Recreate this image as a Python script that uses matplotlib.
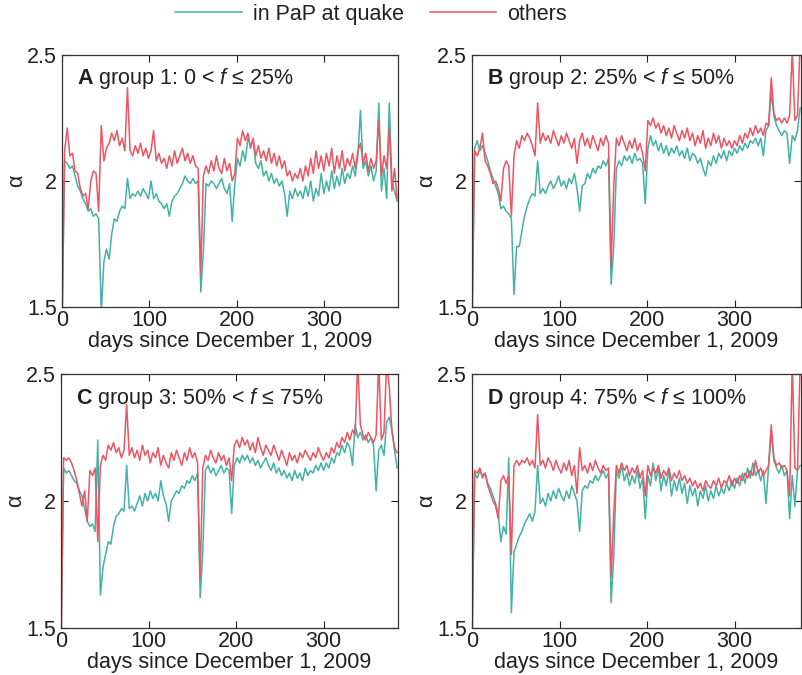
import numpy as np
import matplotlib
matplotlib.use("Agg")
import matplotlib.pyplot as plt
from matplotlib.lines import Line2D

plt.rcParams["font.family"] = ["Liberation Sans", "DejaVu Sans"]
plt.rcParams["mathtext.fontset"] = "custom"
plt.rcParams["mathtext.rm"] = "Liberation Sans"
plt.rcParams["mathtext.it"] = "Liberation Sans:italic"
plt.rcParams["mathtext.bf"] = "Liberation Sans:bold"

# sampled every 3 days
days_ac = np.arange(0, 385, 3)
days_bd = np.arange(0, 376, 3)

pap_a = [
    1.45, 2.08, 2.07, 2.05, 2.06, 2.02, 1.98, 1.96, 1.93, 1.91,
    1.88, 1.89, 1.86, 1.87, 1.85, 1.48, 1.68, 1.73, 1.69, 1.79,
    1.85, 1.84, 1.88, 1.90, 1.89, 2.01, 1.93, 1.95, 1.94, 1.96,
    1.94, 1.97, 1.95, 1.93, 2.00, 1.93, 1.95, 1.92, 1.91, 1.89,
    1.91, 1.86, 1.92, 1.94, 1.95, 1.97, 1.99, 2.02, 2.00, 1.99,
    2.01, 1.99, 2.00, 1.56, 1.72, 1.99, 1.98, 2.00, 1.99, 1.97,
    1.99, 2.01, 1.97, 1.95, 1.99, 1.84, 1.99, 2.09, 2.06, 2.12,
    2.08, 2.17, 2.14, 2.16, 2.07, 2.05, 2.08, 2.02, 2.04, 2.00,
    2.03, 1.99, 2.01, 1.98, 2.00, 1.95, 1.86, 1.96, 1.93, 1.97,
    1.94, 1.96, 1.93, 1.98, 1.94, 2.00, 1.92, 1.97, 1.94, 2.03,
    1.95, 2.00, 1.96, 2.04, 1.97, 2.02, 1.98, 2.05, 1.99, 2.03,
    2.01, 2.06, 2.02, 2.10, 2.28, 2.05, 2.08, 2.02, 2.06, 2.00,
    2.04, 2.31, 1.96, 2.05, 1.93, 2.31, 2.00, 1.96, 1.92,
]
oth_a = [
    1.40, 2.12, 2.21, 2.10, 2.11, 2.04, 2.03, 1.97, 1.94, 1.95,
    1.89, 2.00, 2.04, 2.03, 1.88, 2.22, 2.08, 2.13, 2.15, 2.19,
    2.16, 2.20, 2.14, 2.17, 2.12, 2.37, 2.12, 2.10, 2.14, 2.11,
    2.15, 2.10, 2.13, 2.09, 2.12, 2.20, 2.08, 2.11, 2.07, 2.09,
    2.05, 2.10, 2.06, 2.12, 2.07, 2.10, 2.13, 2.08, 2.11, 2.07,
    2.10, 2.06, 2.05, 1.63, 2.02, 2.06, 2.03, 2.08, 2.04, 2.10,
    2.05, 2.03, 2.09, 2.04, 2.07, 2.00, 2.03, 2.17, 2.14, 2.20,
    2.16, 2.19, 2.13, 2.17, 2.10, 2.14, 2.09, 2.12, 2.08, 2.13,
    2.07, 2.11, 2.06, 2.10, 2.05, 2.08, 2.02, 2.04, 2.00, 2.03,
    2.01, 2.05, 2.00, 2.06, 2.02, 2.09, 2.03, 2.12, 2.05, 2.10,
    2.04, 2.11, 2.06, 2.13, 2.03, 2.10, 2.05, 2.12, 2.04, 2.09,
    2.06, 2.11, 2.05, 2.12, 2.15, 2.07, 2.11, 2.04, 2.09, 2.05,
    2.08, 2.24, 2.02, 2.10, 2.05, 2.21, 1.96, 2.05, 1.93,
]

pap_b = [
    1.45, 2.13, 2.16, 2.12, 2.14, 2.11, 2.08, 2.04, 2.01, 1.98,
    1.95, 1.89, 1.90, 1.88, 1.87, 1.85, 1.55, 1.74, 1.74, 1.80,
    1.86, 1.90, 1.93, 1.95, 1.94, 2.08, 1.95, 1.97, 1.95, 1.98,
    2.00, 1.97, 1.99, 2.02, 1.98, 2.00, 1.97, 2.01, 1.99, 2.03,
    1.97, 1.88, 1.98, 1.99, 2.03, 2.01, 2.05, 2.03, 2.06, 2.05,
    2.08, 2.06, 2.09, 1.59, 1.74, 2.05, 2.08, 2.06, 2.10, 2.08,
    2.10, 2.07, 2.11, 2.08, 2.09, 2.07, 1.91, 2.13, 2.18, 2.14,
    2.16, 2.12, 2.15, 2.11, 2.14, 2.10, 2.13, 2.11, 2.14, 2.10,
    2.12, 2.09, 2.13, 2.08, 2.11, 2.10, 2.07, 2.09, 2.05, 2.02,
    2.08, 2.06, 2.10, 2.07, 2.11, 2.09, 2.12, 2.08, 2.12, 2.10,
    2.13, 2.11, 2.14, 2.12, 2.15, 2.13, 2.16, 2.15, 2.17, 2.14,
    2.17, 2.10, 2.20, 2.22, 2.35, 2.26, 2.22, 2.20, 2.18, 2.20,
    2.19, 2.07, 2.18, 2.16, 2.20, 2.29,
]
oth_b = [
    1.40, 2.12, 2.10, 2.13, 2.19, 2.08, 2.06, 2.03, 1.99, 2.00,
    1.97, 1.92, 2.05, 2.08, 2.06, 1.86, 2.10, 2.16, 2.13, 2.18,
    2.16, 2.19, 2.17, 2.14, 2.10, 2.31, 2.15, 2.19, 2.16, 2.18,
    2.15, 2.20, 2.17, 2.14, 2.18, 2.15, 2.19, 2.16, 2.13, 2.17,
    2.07, 2.16, 2.19, 2.14, 2.17, 2.13, 2.18, 2.15, 2.12, 2.17,
    2.14, 2.18, 2.15, 1.66, 1.98, 2.17, 2.14, 2.18, 2.15, 2.12,
    2.16, 2.13, 2.17, 2.12, 2.15, 2.11, 2.04, 2.24, 2.22, 2.25,
    2.21, 2.23, 2.19, 2.22, 2.18, 2.21, 2.17, 2.22, 2.19, 2.16,
    2.20, 2.17, 2.21, 2.16, 2.19, 2.14, 2.18, 2.15, 2.20, 2.13,
    2.17, 2.14, 2.19, 2.15, 2.18, 2.13, 2.17, 2.14, 2.16, 2.13,
    2.16, 2.14, 2.18, 2.15, 2.19, 2.17, 2.21, 2.18, 2.22, 2.19,
    2.21, 2.18, 2.23, 2.22, 2.41, 2.27, 2.24, 2.25, 2.23, 2.25,
    2.23, 2.26, 2.52, 2.24, 2.26, 2.55,
]

pap_c = [
    1.45, 2.13, 2.11, 2.12, 2.10, 2.08, 2.07, 2.04, 2.02, 1.97,
    1.92, 1.90, 1.91, 1.88, 2.24, 1.63, 1.74, 1.79, 1.84, 1.83,
    1.90, 1.94, 1.95, 1.97, 1.96, 2.14, 1.97, 1.98, 1.96, 1.99,
    2.02, 1.98, 2.03, 2.00, 2.04, 2.01, 2.03, 2.00, 2.08, 2.02,
    1.99, 1.92, 2.00, 2.02, 2.04, 2.03, 2.06, 2.05, 2.08, 2.07,
    2.10, 2.08, 2.11, 1.62, 1.80, 2.12, 2.14, 2.11, 2.13, 2.10,
    2.12, 2.14, 2.11, 2.13, 2.12, 1.95, 2.14, 2.17, 2.15, 2.18,
    2.16, 2.18, 2.15, 2.17, 2.14, 2.16, 2.13, 2.15, 2.17, 2.14,
    2.12, 2.15, 2.11, 2.13, 2.10, 2.12, 2.09, 2.11, 2.08, 2.12,
    2.09, 2.11, 2.08, 2.13, 2.10, 2.12, 2.11, 2.14, 2.12, 2.15,
    2.12, 2.15, 2.13, 2.17, 2.15, 2.19, 2.18, 2.22, 2.19, 2.23,
    2.21, 2.14, 2.30, 2.25, 2.27, 2.24, 2.26, 2.23, 2.25, 2.22,
    2.04, 2.20, 2.22, 2.18, 2.31, 2.33, 2.28, 2.20, 2.13,
]
oth_c = [
    1.40, 2.17, 2.16, 2.17, 2.15, 2.12, 2.08, 2.03, 1.98, 2.04,
    1.92, 2.12, 2.10, 2.13, 1.84, 2.14, 2.18, 2.16, 2.22, 2.20,
    2.23, 2.19, 2.21, 2.17, 2.20, 2.38, 2.18, 2.21, 2.17, 2.20,
    2.16, 2.22, 2.18, 2.20, 2.15, 2.19, 2.17, 2.21, 2.14, 2.18,
    2.15, 2.13, 2.19, 2.16, 2.20, 2.17, 2.14, 2.19, 2.16, 2.21,
    2.17, 2.19, 2.15, 1.70, 2.13, 2.18, 2.16, 2.20, 2.17, 2.15,
    2.19, 2.16, 2.18, 2.14, 2.17, 2.08, 2.22, 2.24, 2.21, 2.25,
    2.22, 2.24, 2.20, 2.23, 2.19, 2.25, 2.21, 2.18, 2.22, 2.20,
    2.18, 2.22, 2.19, 2.16, 2.20, 2.17, 2.14, 2.19, 2.16, 2.18,
    2.15, 2.19, 2.17, 2.20, 2.18, 2.16, 2.19, 2.17, 2.21, 2.18,
    2.16, 2.19, 2.17, 2.21, 2.19, 2.23, 2.21, 2.25, 2.23, 2.27,
    2.24, 2.28, 2.26, 2.55, 2.30, 2.26, 2.24, 2.27, 2.25, 2.23,
    2.26, 2.55, 2.24, 2.27, 2.55, 2.45, 2.28, 2.21, 2.19,
]

pap_d = [
    1.45, 2.11, 2.09, 2.12, 2.10, 2.11, 2.07, 2.05, 2.02, 1.99,
    1.95, 1.84, 1.90, 1.87, 2.17, 1.56, 1.80, 1.83, 1.86, 1.88,
    1.91, 1.93, 1.95, 1.92, 1.96, 2.14, 1.99, 2.01, 1.98, 2.03,
    2.00, 2.04, 2.01, 2.05, 2.02, 2.00, 2.04, 2.01, 2.06, 2.03,
    2.00, 1.88, 2.04, 2.06, 2.05, 2.08, 2.07, 2.10, 2.08, 2.10,
    2.12, 2.09, 2.11, 1.60, 1.78, 2.12, 2.09, 2.14, 2.08, 2.11,
    2.06, 2.10, 2.07, 2.12, 2.05, 2.09, 1.93, 2.10, 2.06, 2.15,
    2.08, 2.13, 2.04, 2.10, 2.06, 2.12, 2.02, 2.08, 2.04, 2.09,
    2.03, 2.07, 1.99, 2.06, 2.02, 2.05, 1.98, 2.04, 2.01, 2.06,
    2.00, 2.04, 2.01, 2.06, 2.02, 2.05, 2.03, 2.07, 2.04, 2.08,
    2.05, 2.09, 2.06, 2.11, 2.07, 2.13, 2.09, 2.15, 2.10, 2.12,
    2.08, 2.12, 1.99, 2.14, 2.27, 2.16, 2.13, 2.11, 2.14, 2.10,
    2.12, 1.93, 2.10, 1.98, 2.12, 2.14,
]
oth_d = [
    1.40, 2.12, 2.11, 2.13, 2.09, 2.11, 2.06, 2.03, 2.00, 1.98,
    1.93, 2.08, 2.10, 2.07, 2.10, 1.79, 2.14, 2.16, 2.14, 2.16,
    2.15, 2.17, 2.14, 2.16, 2.13, 2.34, 2.14, 2.16, 2.13, 2.17,
    2.15, 2.12, 2.16, 2.13, 2.11, 2.15, 2.12, 2.16, 2.10, 2.14,
    2.03, 2.21, 2.12, 2.14, 2.11, 2.15, 2.12, 2.16, 2.13, 2.11,
    2.14, 2.12, 2.13, 1.70, 1.95, 2.14, 2.11, 2.15, 2.12, 2.14,
    2.10, 2.13, 2.11, 2.14, 2.09, 2.12, 2.02, 2.14, 2.10, 2.13,
    2.11, 2.14, 2.09, 2.12, 2.10, 2.13, 2.08, 2.11, 2.09, 2.12,
    2.08, 2.10, 2.07, 2.09, 2.06, 2.08, 2.05, 2.07, 2.04, 2.08,
    2.06, 2.05, 2.08, 2.06, 2.09, 2.05, 2.08, 2.07, 2.10, 2.06,
    2.09, 2.07, 2.10, 2.08, 2.11, 2.09, 2.12, 2.10, 2.16, 2.11,
    2.13, 2.10, 2.12, 2.14, 2.30, 2.17, 2.14, 2.15, 2.13, 2.14,
    2.12, 2.02, 2.55, 2.13, 2.12, 2.55,
]

panels = [
    ("A", "group 1: 0 < $f$ ≤ 25%", days_ac, pap_a, oth_a, 385),
    ("B", "group 2: 25% < $f$ ≤ 50%", days_bd, pap_b, oth_b, 376),
    ("C", "group 3: 50% < $f$ ≤ 75%", days_ac, pap_c, oth_c, 385),
    ("D", "group 4: 75% < $f$ ≤ 100%", days_bd, pap_d, oth_d, 376),
]

TEAL = "#42b2a5"
RED = "#ec5561"
INK = "#231f20"

fig = plt.figure(figsize=(8.02, 6.75), dpi=100)
W, H = 802, 675
boxes = [(62, 55, 398, 307), (472, 55, 801, 307),
         (61, 374, 398, 628), (472, 374, 801, 628)]

for (letter, title, days, pap, oth, xmax), (l, t, r, b) in zip(panels, boxes):
    ax = fig.add_axes([l / W, 1 - b / H, (r - l) / W, (b - t) / H])
    ax.plot(days, pap, color=TEAL, lw=1.1)
    ax.plot(days, oth, color=RED, lw=1.1)
    ax.set_xlim(0, xmax)
    ax.set_ylim(1.5, 2.5)
    ax.set_xticks([0, 100, 200, 300])
    ax.set_yticks([1.5, 2, 2.5])
    ax.set_yticklabels(["1.5", "2", "2.5"])
    ax.tick_params(direction="in", length=5, width=0.8, top=True, right=True,
                   labelsize=15.5, colors=INK)
    ax.tick_params(axis="x", pad=2)
    ax.tick_params(axis="y", pad=3.5)
    for s in ax.spines.values():
        s.set_linewidth(0.9)
        s.set_color("#333333")
    ax.set_xlabel("days since December 1, 2009", fontsize=15.5, color=INK, labelpad=0)
    ax.set_ylabel("α", fontsize=15.5, color=INK, labelpad=0)
    ax.text(0.045, 0.905, r"$\mathbf{%s}$ %s" % (letter, title), transform=ax.transAxes,
            fontsize=15.5, color=INK, va="center", ha="left")

handles = [Line2D([], [], color=TEAL, lw=1.1), Line2D([], [], color=RED, lw=1.1)]
fig.legend(handles, ["in PaP at quake", "others"], loc="center",
           bbox_to_anchor=(0.4626, 0.979), ncol=2, frameon=False, fontsize=15.5,
           handlelength=3.1, handletextpad=0.5, columnspacing=1.2, labelcolor=INK)

fig.savefig("out.png", dpi=100)
